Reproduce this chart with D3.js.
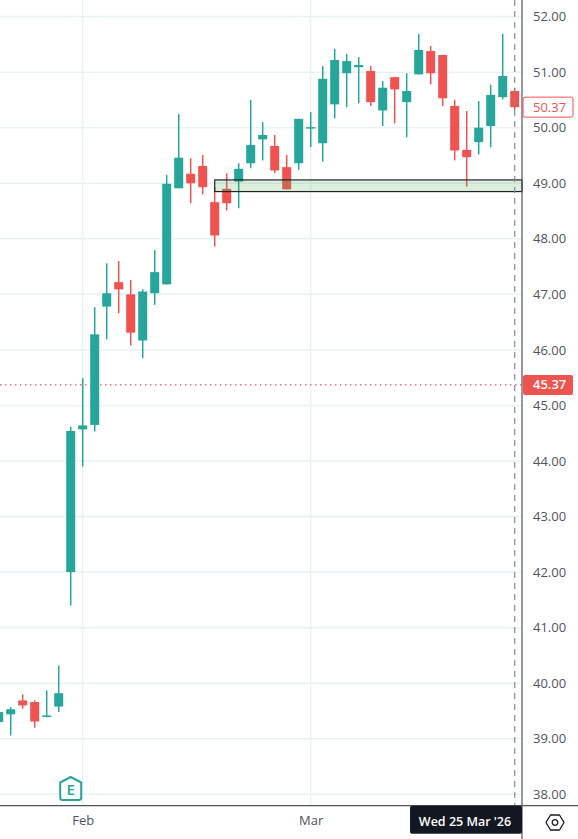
<!DOCTYPE html>
<html>
<head>
<meta charset="utf-8">
<script src="https://cdn.jsdelivr.net/npm/d3@7"></script>
<style>
  html, body { margin: 0; padding: 0; background: #fff; }
  svg { display: block; }
  text { font-family: "Open Sans", "Liberation Sans", sans-serif; }
</style>
</head>
<body>
<div id="chart"></div>
<script>
const dates = [
  "2026-01-22", "2026-01-23", "2026-01-26", "2026-01-27", "2026-01-28", "2026-01-29", "2026-01-30",
  "2026-02-02", "2026-02-03", "2026-02-04", "2026-02-05", "2026-02-06",
  "2026-02-09", "2026-02-10", "2026-02-11", "2026-02-12", "2026-02-13",
  "2026-02-17", "2026-02-18", "2026-02-19", "2026-02-20",
  "2026-02-23", "2026-02-24", "2026-02-25", "2026-02-26", "2026-02-27",
  "2026-03-02", "2026-03-03", "2026-03-04", "2026-03-05", "2026-03-06",
  "2026-03-09", "2026-03-10", "2026-03-11", "2026-03-12", "2026-03-13",
  "2026-03-16", "2026-03-17", "2026-03-18", "2026-03-19", "2026-03-20",
  "2026-03-23", "2026-03-24", "2026-03-25"
];
const opens = [
  39.30, 39.44, 39.69, 39.66, 39.39, 39.58, 42.00,
  44.57, 44.65, 46.78, 47.22, 47.00,
  46.17, 47.02, 47.18, 48.91, 49.17,
  49.31, 48.66, 48.90, 49.03,
  49.36, 49.79, 49.67, 49.29, 49.36,
  49.99, 49.72, 50.42, 50.98, 51.09,
  51.02, 50.31, 50.91, 50.46, 50.96,
  51.38, 51.31, 50.39, 49.60, 49.74,
  50.03, 50.55, 50.66
];
const closes = [
  39.48, 39.53, 39.60, 39.31, 39.42, 39.82, 44.54,
  44.64, 46.28, 47.02, 47.09, 46.31,
  47.05, 47.40, 48.99, 49.46, 49.00,
  48.93, 48.06, 48.64, 49.26,
  49.69, 49.87, 49.23, 48.89, 50.16,
  50.01, 50.88, 51.22, 51.20, 51.13,
  50.46, 50.72, 50.69, 50.66, 51.40,
  50.98, 50.53, 49.59, 49.47, 50.00,
  50.59, 50.93, 50.37
];
const highs = [
  39.54, 39.57, 39.80, 39.69, 39.87, 40.32, 44.62,
  45.49, 46.77, 47.56, 47.60, 47.26,
  47.09, 47.80, 49.15, 50.25, 49.45,
  49.51, 48.93, 49.18, 49.36,
  50.50, 50.10, 49.87, 49.51, 50.16,
  50.28, 51.11, 51.42, 51.33, 51.27,
  51.11, 50.84, 50.91, 50.98, 51.69,
  51.47, 51.31, 50.50, 50.30, 50.48,
  50.77, 51.69, 50.72
];
const lows = [
  39.22, 39.06, 39.54, 39.20, 39.39, 39.48, 41.40,
  43.90, 44.53, 46.19, 46.66, 46.08,
  45.85, 46.81, 47.18, 48.91, 48.64,
  48.80, 47.86, 48.51, 48.55,
  49.27, 49.41, 49.18, 48.89, 49.24,
  49.65, 49.39, 50.17, 50.37, 50.44,
  50.39, 50.03, 50.08, 49.83, 50.96,
  50.78, 50.39, 49.41, 48.94, 49.52,
  49.65, 50.51, 50.32
];
const priceTicks = d3.range(38, 53);
const monthTicks = ["2026-02-02", "2026-03-02"];
const monthLabels = ["Feb", "Mar"];
const zoneTop = 49.06;
const zoneBottom = 48.85;
const zoneStart = "2026-02-18";
const prevClose = 45.37;
const lastClose = 50.37;
const cursorDate = "2026-03-25";
const cursorLabel = "Wed 25 Mar '26";
const earningsDate = "2026-01-30";

const width = 578, height = 839;
const plotRight = 522, plotBottom = 805.7;
const up = "#26a69a", down = "#ef5350", grid = "#e8f1f4", axisCol = "#50535e", textCol = "#50535e";

const x = d3.scalePoint().domain(dates).range([-1.3, 514.7]);
const y = d3.scaleLinear().domain([38, 52]).range([794.3, 16.6]);
const bodyW = 9;

const svg = d3.select("#chart").append("svg").attr("width", width).attr("height", height);

// grid
svg.append("g").selectAll("line").data(priceTicks).join("line")
  .attr("x1", 0).attr("x2", plotRight)
  .attr("y1", d => y(d)).attr("y2", d => y(d))
  .attr("stroke", grid).attr("stroke-width", 1.5);
svg.append("g").selectAll("line").data(monthTicks).join("line")
  .attr("x1", d => x(d)).attr("x2", d => x(d))
  .attr("y1", 0).attr("y2", plotBottom)
  .attr("stroke", grid).attr("stroke-width", 1.5);

// previous close line
svg.append("line")
  .attr("x1", 0).attr("x2", plotRight)
  .attr("y1", y(prevClose)).attr("y2", y(prevClose))
  .attr("stroke", down).attr("stroke-width", 1.2).attr("stroke-dasharray", "1.5 3.5");

// candles
const candles = svg.append("g").selectAll("g").data(dates).join("g")
  .attr("fill", (d, i) => closes[i] >= opens[i] ? up : down)
  .attr("stroke", (d, i) => closes[i] >= opens[i] ? up : down);
candles.append("line")
  .attr("x1", d => x(d)).attr("x2", d => x(d))
  .attr("y1", (d, i) => y(highs[i])).attr("y2", (d, i) => y(lows[i]))
  .attr("stroke-width", 1.5);
candles.append("rect")
  .attr("x", d => x(d) - bodyW / 2)
  .attr("width", bodyW)
  .attr("y", (d, i) => y(Math.max(opens[i], closes[i])))
  .attr("height", (d, i) => Math.max(1.5, Math.abs(y(opens[i]) - y(closes[i]))))
  .attr("stroke", "none");

// support zone
svg.append("rect")
  .attr("x", x(zoneStart)).attr("width", plotRight - x(zoneStart))
  .attr("y", y(zoneTop)).attr("height", y(zoneBottom) - y(zoneTop))
  .attr("fill", "#4caf50").attr("fill-opacity", 0.2)
  .attr("stroke", "#1f2328").attr("stroke-width", 1.2);

// crosshair
svg.append("line")
  .attr("x1", x(cursorDate)).attr("x2", x(cursorDate))
  .attr("y1", 0).attr("y2", plotBottom)
  .attr("stroke", "#858a93").attr("stroke-width", 1.2).attr("stroke-dasharray", "6 5");

// earnings marker
const eMark = svg.append("g").attr("transform", `translate(${x(earningsDate)},788.5)`);
eMark.append("path")
  .attr("d", "M0,-11.5 L10.5,-6 L10.5,9 Q10.5,11.5 8,11.5 L-8,11.5 Q-10.5,11.5 -10.5,9 L-10.5,-6 Z")
  .attr("fill", "#fff").attr("stroke", up).attr("stroke-width", 2).attr("stroke-linejoin", "round");
eMark.append("text").attr("text-anchor", "middle").attr("y", 6)
  .attr("fill", up).attr("font-size", 15).attr("font-weight", 600).text("E");

// axes
svg.append("g")
  .attr("transform", `translate(${plotRight},0)`)
  .call(d3.axisRight(y).tickValues(priceTicks).tickSize(0).tickPadding(11).tickFormat(d3.format(".2f")))
  .call(g => g.select(".domain").remove())
  .call(g => g.selectAll("text").attr("fill", textCol).attr("font-size", 13));
svg.append("g")
  .attr("transform", `translate(0,${plotBottom})`)
  .call(d3.axisBottom(x).tickValues(monthTicks).tickSize(0).tickPadding(10)
    .tickFormat((d, i) => monthLabels[i]))
  .call(g => g.select(".domain").remove())
  .call(g => g.selectAll("text").attr("fill", textCol).attr("font-size", 13));
svg.append("line").attr("x1", 0).attr("x2", width)
  .attr("y1", plotBottom).attr("y2", plotBottom)
  .attr("stroke", axisCol).attr("stroke-width", 1.2);
svg.append("line").attr("x1", plotRight).attr("x2", plotRight)
  .attr("y1", 0).attr("y2", height)
  .attr("stroke", axisCol).attr("stroke-width", 1.2);

// price labels
svg.append("rect")
  .attr("x", plotRight + 1).attr("width", 50)
  .attr("y", y(lastClose) - 10).attr("height", 20).attr("rx", 2)
  .attr("fill", "#fff").attr("stroke", down).attr("stroke-width", 1);
svg.append("text").attr("x", plotRight + 11).attr("y", y(lastClose)).attr("dy", "0.35em")
  .attr("fill", down).attr("font-size", 13).text(lastClose.toFixed(2));
svg.append("rect")
  .attr("x", plotRight + 1).attr("width", 50)
  .attr("y", y(prevClose) - 10).attr("height", 20).attr("rx", 2)
  .attr("fill", down);
svg.append("text").attr("x", plotRight + 11).attr("y", y(prevClose)).attr("dy", "0.35em")
  .attr("fill", "#fff").attr("font-size", 13).attr("font-weight", 600).text(prevClose.toFixed(2));

// cursor date label
svg.append("rect")
  .attr("x", 410).attr("width", plotRight - 410)
  .attr("y", plotBottom).attr("height", 28).attr("rx", 2)
  .attr("fill", "#131722");
svg.append("text").attr("x", 465).attr("y", plotBottom + 16).attr("dy", "0.35em")
  .attr("text-anchor", "middle").attr("fill", "#fff")
  .attr("font-size", 12.5).attr("font-weight", 600).text(cursorLabel);

// settings icon
const gear = svg.append("g").attr("transform", "translate(555,822.5)")
  .attr("fill", "none").attr("stroke", "#131722").attr("stroke-width", 1.3);
gear.append("path").attr("d", "M-9,0 L-4.5,-7.5 L4.5,-7.5 L9,0 L4.5,7.5 L-4.5,7.5 Z").attr("stroke-linejoin", "round");
gear.append("circle").attr("r", 2.8);
</script>
</body>
</html>
